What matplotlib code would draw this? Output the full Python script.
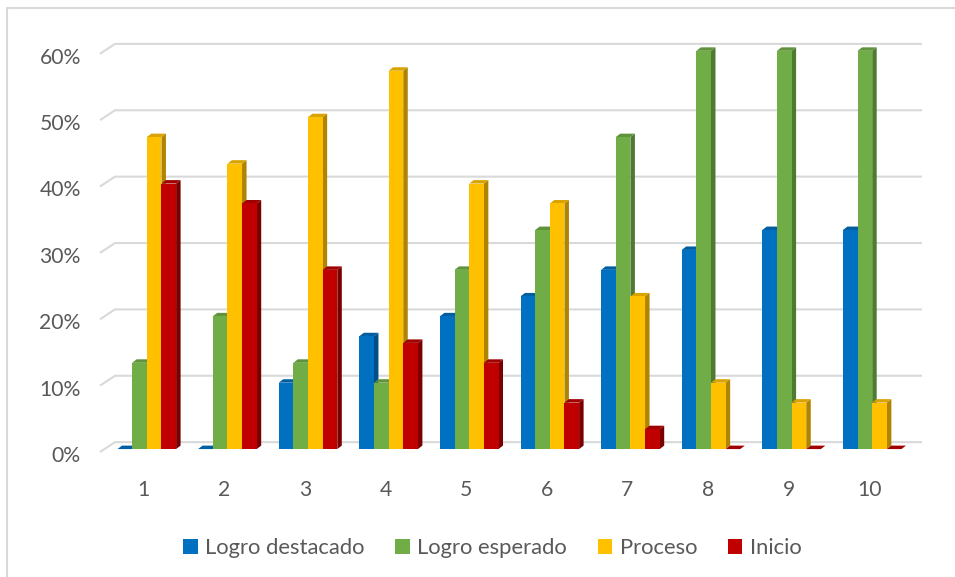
import numpy as np
import matplotlib.pyplot as plt
from matplotlib.patches import Polygon, Patch
from matplotlib.lines import Line2D

plt.rcParams['font.family'] = ['Lato', 'DejaVu Sans']

# datos del gráfico (porcentajes)
categorias = ['1', '2', '3', '4', '5', '6', '7', '8', '9', '10']
logro_destacado = [0, 0, 10, 17, 20, 23, 27, 30, 33, 33]
logro_esperado = [13, 20, 13, 10, 27, 33, 47, 60, 60, 60]
proceso = [47, 43, 50, 57, 40, 37, 23, 10, 7, 7]
inicio = [40, 37, 27, 16, 13, 7, 3, 0, 0, 0]
nombres = ['Logro destacado', 'Logro esperado', 'Proceso', 'Inicio']
niveles = [0, 10, 20, 30, 40, 50, 60]

colores = ['#0070C0', '#70AD47', '#FFC000', '#C00000']
laterales = ['#004F88', '#4E7A31', '#B08400', '#7A0000']
techos = ['#005FA3', '#5F933C', '#D9A300', '#A00000']
gris_txt = '#595959'
gris_lin = '#D9D9D9'

W, H = 955, 577
fig = plt.figure(figsize=(W / 100, H / 100), dpi=100)
# área del gráfico en píxeles: x 106.5..912.5, base 454, 60% en 50.8
ax = fig.add_axes([106.5 / W, (H - 454) / H, 806 / W, 403.2 / H])
ax.set_xlim(-0.5, 9.5)
ax.set_ylim(0, 60)
for s in ax.spines.values():
    s.set_visible(False)

PX_X = 806 / 10       # pixeles por categoría
PX_Y = 403.2 / 60     # pixeles por punto porcentual

# líneas de la pared del fondo (con el tramo inclinado a la izquierda)
x_front = -0.5 + (100 - 106.5) / PX_X
x_back = -0.5 + (115 - 106.5) / PX_X
x_end = 9.5 + (922 - 912.5) / PX_X
for v in niveles:
    yb = v + 7 / PX_Y
    yf = v - 3 / PX_Y
    ax.plot([x_front, x_back, x_end], [yf, yb, yb], color=gris_lin, lw=1.5,
            clip_on=False, zorder=0, solid_capstyle='butt')

# barras "3D": cara frontal, lateral y superior
series = [logro_destacado, logro_esperado, proceso, inicio]
w = 14.65 / PX_X
dx = 4.5 / PX_X
dy = 3.5 / PX_Y
x = np.arange(len(categorias))
for k, vals in enumerate(series):
    x0s = x + (k - 2) * w
    for x0, h in zip(x0s, vals):
        x1 = x0 + w
        lado = Polygon([(x1, 0), (x1 + dx, dy), (x1 + dx, h + dy), (x1, h)],
                       closed=True, facecolor=laterales[k], edgecolor='none',
                       zorder=2 + 2 * k, clip_on=False)
        techo = Polygon([(x0, h), (x1, h), (x1 + dx, h + dy), (x0 + dx, h + dy)],
                        closed=True, facecolor=techos[k], edgecolor='none',
                        zorder=2 + 2 * k, clip_on=False)
        ax.add_patch(lado)
        ax.add_patch(techo)
    ax.bar(x0s, vals, w, align='edge', color=colores[k], zorder=3 + 2 * k,
           clip_on=False)

ax.set_yticks(np.array(niveles) - 5 / PX_Y, labels=[f'{v}%' for v in niveles])
ax.set_xticks(x - 3 / PX_X, labels=categorias)
ax.tick_params(axis='y', length=0, pad=18.5, labelsize=15.2, labelcolor=gris_txt)
ax.tick_params(axis='x', length=0, pad=19, labelsize=15.2, labelcolor=gris_txt)

handles = [Patch(facecolor=c, edgecolor='none') for c in colores]
fig.legend(handles, nombres, loc='center', bbox_to_anchor=(492.5 / W, 1 - 548 / H),
           ncol=4, frameon=False, fontsize=15.8, handlelength=0.65,
           handleheight=0.65, handletextpad=0.35, columnspacing=1.4,
           labelcolor=gris_txt)

# marco del gráfico (solo se ven el borde superior e izquierdo)
fig.add_artist(Line2D([7 / W, 7 / W, 1], [0, 1 - 8 / H, 1 - 8 / H],
                      transform=fig.transFigure, color=gris_lin, lw=1.5))

fig.savefig('out.png', dpi=100)
